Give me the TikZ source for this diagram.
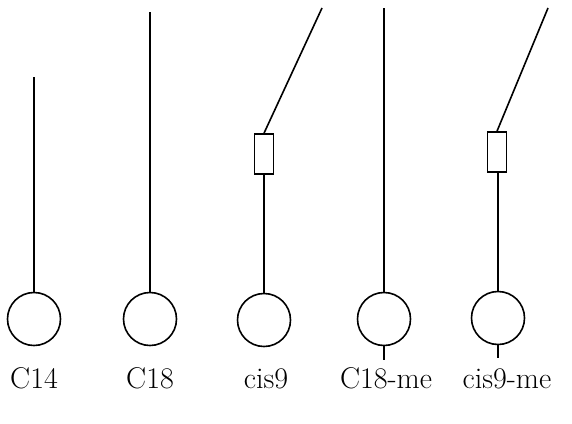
\documentclass[tikz,border=0pt]{standalone}
\begin{document}
\begin{tikzpicture}[x=1pt,y=-1pt,
  ln/.style={line width=1.6pt},
  head/.style={circle,draw,line width=1.6pt,minimum size=53pt,inner sep=0pt},
  box/.style={draw,line width=1.6pt,minimum width=19pt,minimum height=40pt,inner sep=0pt},
  lab/.style={font=\fontsize{30}{34}\selectfont,anchor=base}]
\useasboundingbox (0,0) rectangle (572,423);
% C14
\node[head] (h1) at (34,319) {};
\coordinate (t1) at (34,77);
\draw[ln] (h1.north) -- (t1);
\node[lab] (l1) at (34,388) {C14};
% C18
\node[head] (h2) at (150,319) {};
\coordinate (t2) at (150,12);
\draw[ln] (h2.north) -- (t2);
\node[lab] (l2) at (150,388) {C18};
% cis9
\node[head] (h3) at (264,320) {};
\node[box] (b3) at (264,154) {};
\coordinate (t3) at (322,8);
\draw[ln] (h3.north) -- (b3.south);
\draw[ln] (b3.north) -- (t3);
\node[lab] (l3) at (266,388) {cis9};
% C18-me
\node[head] (h4) at (384,319) {};
\coordinate (t4) at (384,8);
\coordinate (s4) at (384,360);
\draw[ln] (h4.north) -- (t4);
\draw[ln] (h4.south) -- (s4);
\node[lab] (l4) at (386,388) {C18-me};
\node[lab] (l5) at (507,388) {cis9-me};
% cis9-me
\node[head] (h5) at (498,318) {};
\node[box] (b5) at (497,152) {};
\coordinate (t5) at (548,8);
\coordinate (s5) at (498,358);
\draw[ln] (h5.north) -- (b5.south -| h5.north);
\draw[ln] (b5.north) -- (t5);
\draw[ln] (h5.south) -- (s5);
\end{tikzpicture}
\end{document}
